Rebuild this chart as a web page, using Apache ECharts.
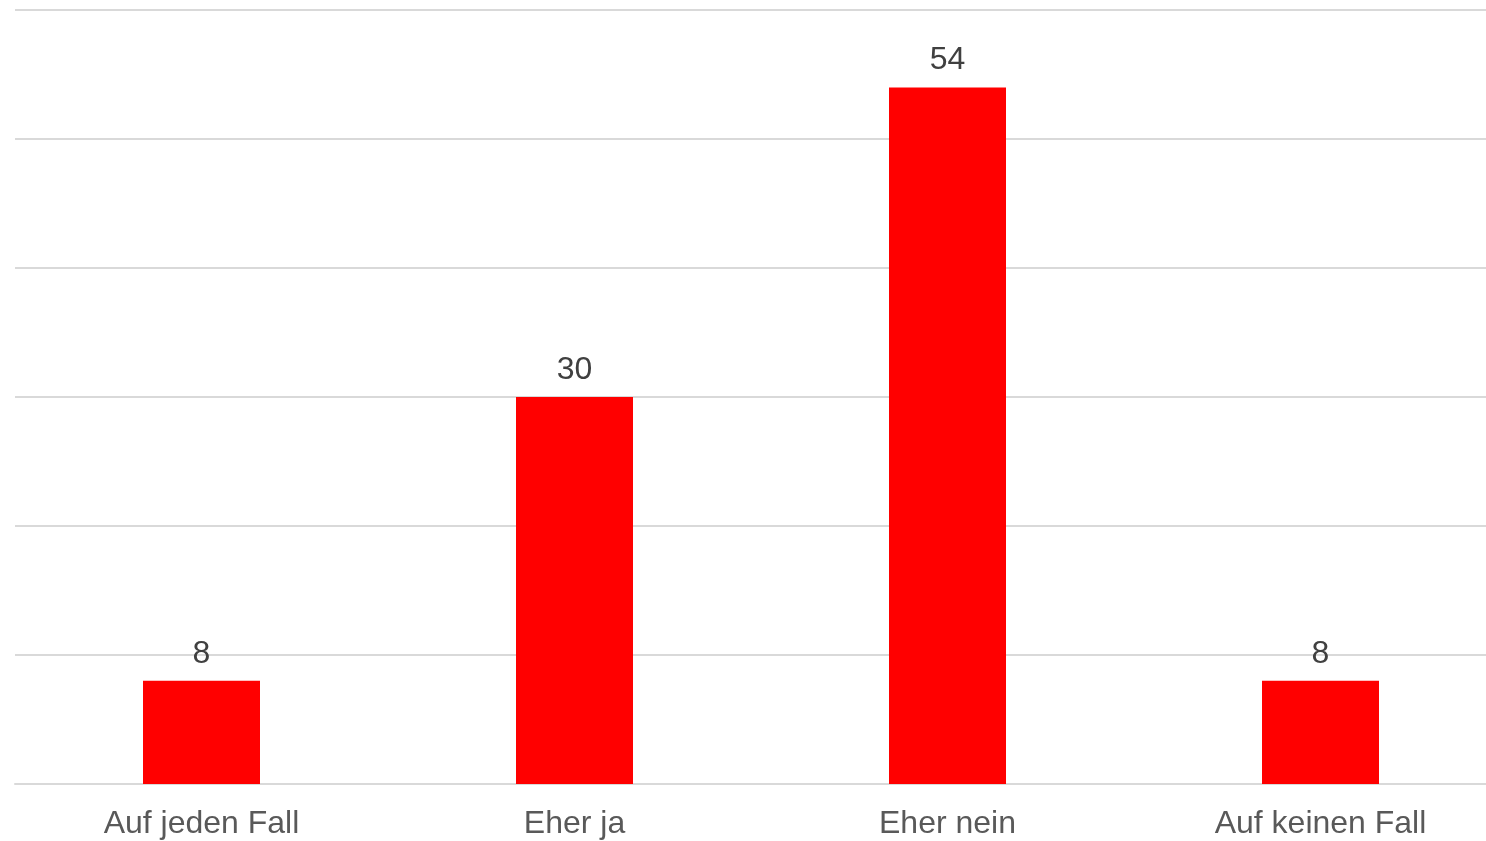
<!DOCTYPE html>
<html>
<head>
<meta charset="utf-8">
<script src="https://cdn.jsdelivr.net/npm/echarts@6/dist/echarts.min.js"></script>
<style>
html,body{margin:0;padding:0;background:#fff;overflow:hidden;}
#chart{width:1486px;height:841px;}
</style>
</head>
<body>
<div id="chart"></div>
<script>
const categories = ['Auf jeden Fall', 'Eher ja', 'Eher nein', 'Auf keinen Fall'];
const values = [8, 30, 54, 8];
const yMin = 0, yMax = 60, yInterval = 10;

const chart = echarts.init(document.getElementById('chart'));
chart.setOption({
  animation: false,
  backgroundColor: '#ffffff',
  grid: { left: 15, width: 1492, top: 10, bottom: 57, containLabel: false, outerBoundsMode: 'none' },
  xAxis: {
    type: 'category',
    data: categories,
    axisLine: { show: true, lineStyle: { color: '#d9d9d9', width: 2 } },
    axisTick: { show: false },
    axisLabel: { color: '#595959', fontSize: 32, fontFamily: 'Liberation Sans, Arial, sans-serif', margin: 24 }
  },
  yAxis: {
    type: 'value',
    min: yMin, max: yMax, interval: yInterval,
    axisLabel: { show: false },
    axisLine: { show: false },
    axisTick: { show: false },
    splitLine: { lineStyle: { color: '#d9d9d9', width: 2 } }
  },
  series: [{
    type: 'bar',
    data: values,
    barWidth: 117,
    itemStyle: { color: '#ff0000' },
    label: {
      show: true, position: 'top', distance: 11,
      color: '#404040', fontSize: 32, fontFamily: 'Liberation Sans, Arial, sans-serif'
    }
  }]
});
</script>
</body>
</html>
